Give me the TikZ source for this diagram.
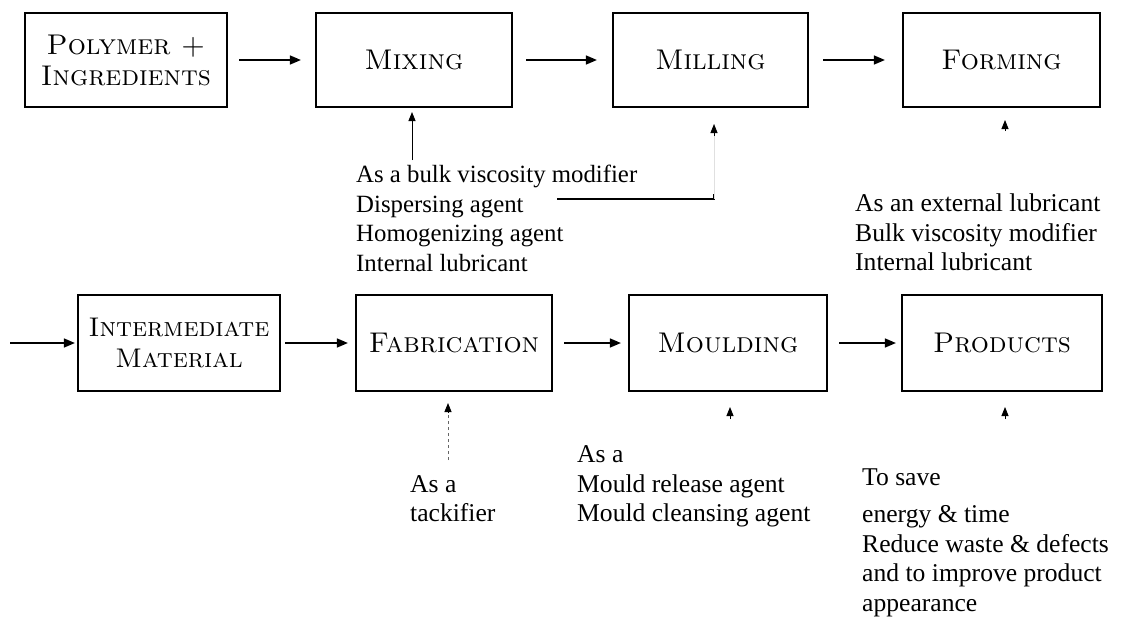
\documentclass[tikz,border=0pt]{standalone}
\usepackage{fontspec}
\newfontfamily\tnr{Liberation Serif}
\usetikzlibrary{arrows.meta,calc}
\begin{document}
\begin{tikzpicture}[x=1pt,y=-1pt,
  box/.style={draw, line width=2.2pt, minimum width=#1, minimum height=94pt,
    inner sep=0pt, align=center, font=\fontsize{28.5}{31}\selectfont\scshape},
  arr/.style={-{Triangle[length=11pt,width=9pt]}, line width=1.5pt},
  uparr/.style={-{Triangle[length=9pt,width=7pt]}, line width=0.9pt},
  txt/.style={font=\tnr\fontsize{24.8}{29.5}\selectfont, align=left, inner sep=0pt, anchor=north west},
  txtb/.style={txt, font=\tnr\fontsize{25.6}{29.5}\selectfont}]
\useasboundingbox[fill=white] (0,0) rectangle (1124,621);
% top row
\node[box=202pt] (poly) at (126,60) {Polymer +\\Ingredients};
\node[box=196pt] (mix) at (414,60) {Mixing};
\node[box=195pt] (mill) at (710.5,60) {Milling};
\node[box=197pt] (form) at (1001.5,60) {Forming};
% bottom row
\node[box=202pt, minimum height=96pt, font=\fontsize{27}{31}\selectfont\scshape] (inter) at (179,343) {Intermediate\\Material};
\node[box=196pt, minimum height=96pt] (fab) at (454,343) {Fabrication};
\node[box=198pt, minimum height=96pt] (mould) at (728,343) {Moulding};
\node[box=200pt, minimum height=96pt] (prod) at (1002,343) {Products};
% horizontal arrows
\draw[arr] ([xshift=11pt]poly.east) -- ([xshift=-14pt]mix.west);
\draw[arr] ([xshift=13pt]mix.east) -- ([xshift=-15pt]mill.west);
\draw[arr] ([xshift=14pt]mill.east) -- ([xshift=-17pt]form.west);
\coordinate (in) at (10,343);
\draw[arr] (in) -- ([xshift=-2pt]inter.west);
\draw[arr] ([xshift=4pt]inter.east) -- ([xshift=-7pt]fab.west);
\draw[arr] ([xshift=11pt]fab.east) -- ([xshift=-7pt]mould.west);
\draw[arr] ([xshift=11pt]mould.east) -- ([xshift=-5pt]prod.west);
% texts
\node[txt] (tmix) at (356,165) {As a bulk viscosity modifier\\Dispersing agent\\Homogenizing agent\\Internal lubricant};
\node[txtb] (tform) at (855,194) {As an external lubricant\\Bulk viscosity modifier\\Internal lubricant};
\node[txtb] (tfab) at (410,475) {As a\\tackifier};
\node[txtb] (tmould) at (577,445.5) {As a\\Mould release agent\\Mould cleansing agent};
\node[txtb] (tprod) at (862,468.5) {To save\\[8pt]energy \& time\\Reduce waste \& defects\\and to improve product\\appearance};
% vertical arrows
\coordinate (mixtail) at (412,160);
\coordinate (mixtip) at (412,112);
\draw[uparr] (mixtail) -- (mixtip);
\coordinate (hl1) at (557,199);
\coordinate (hl2) at (714,199);
\coordinate (milltip) at (714,124);
\draw[line width=1.8pt] (hl1) -- (hl2) -- ++(0,-5);
\draw[line width=0.4pt, black!12] (hl2) -- (milltip);
\draw[uparr] ($(milltip)+(0,12)$) -- (milltip);
\coordinate (formtip) at (1005,120);
\draw[uparr] ($(formtip)+(0,11)$) -- (formtip);
\coordinate (fabtip) at (448,403);
\coordinate (fabtail) at (448,460);
\draw[line width=0.6pt, dashed, black!60] (fabtail) -- ($(fabtip)+(0,8)$);
\draw[uparr] ($(fabtip)+(0,10)$) -- (fabtip);
\coordinate (mouldtip) at (730,407);
\draw[uparr] ($(mouldtip)+(0,12)$) -- (mouldtip);
\coordinate (prodtip) at (1005,407);
\draw[uparr] ($(prodtip)+(0,12)$) -- (prodtip);
\end{tikzpicture}
\end{document}
